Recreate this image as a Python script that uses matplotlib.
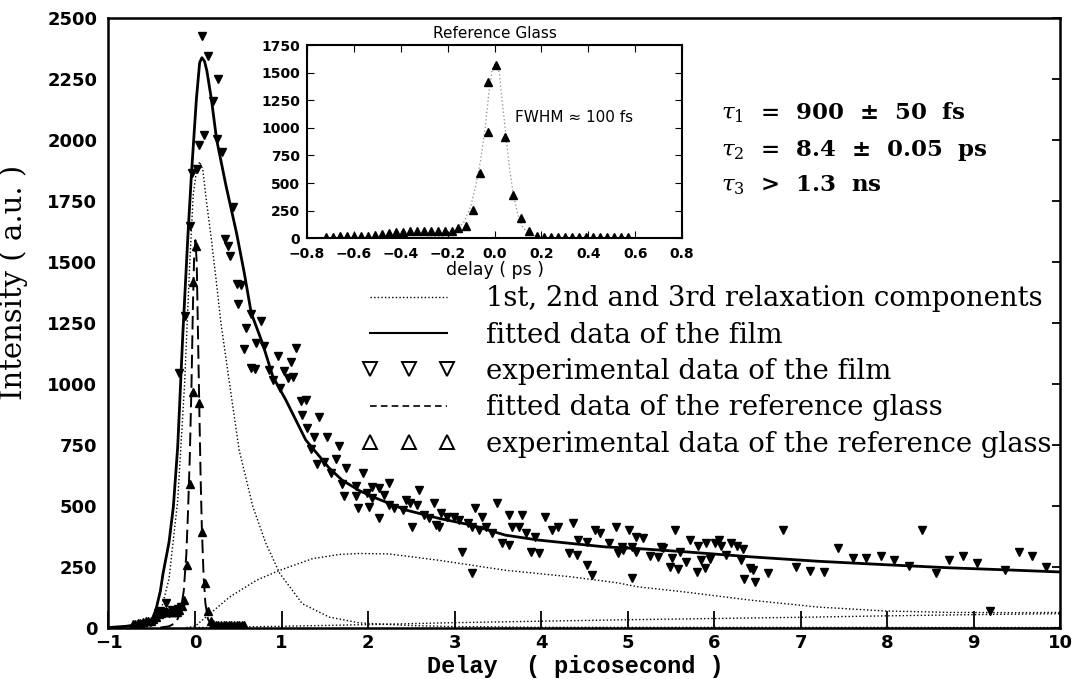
import matplotlib
matplotlib.use("Agg")
import matplotlib.pyplot as plt
from matplotlib.lines import Line2D

plt.rcParams['font.family'] = ['DejaVu Sans']
plt.rcParams['mathtext.fontset'] = 'dejavuserif'

# experimental data of the film (delay in ps, intensity in a.u.)
film_x = [-0.43, -0.40, -0.37, -0.33, -0.30, -0.27, -0.23, -0.20, -0.16,
          -0.18, -0.12, -0.06, -0.04, 0.02, 0.05, 0.11, 0.08, 0.15, 0.27, 0.21,
          0.25, 0.31, 0.44, 0.35, 0.38, 0.41, 0.48, 0.53, 0.50, 0.65, 0.765,
          0.59, 0.71, 0.80, 0.57, 1.17, 0.96, 1.11, 0.69, 0.65, 0.86, 1.03,
          1.13, 1.07, 0.90, 0.98, 1.23, 1.28, 1.24, 1.43, 1.30, 1.37, 1.53,
          1.66, 1.34, 1.63, 1.41, 1.49, 1.75, 1.57, 1.70, 1.86, 1.72, 1.86,
          1.88, 1.94,
          2.05, 2.13, 2.24, 1.99, 2.05, 2.19, 2.59, 2.01, 2.13, 2.24, 2.30,
          2.44, 2.49, 2.57, 2.76, 2.40, 2.65, 2.70, 2.51, 2.84, 2.91, 2.99,
          3.05, 2.78, 2.82, 3.24, 3.15, 3.20, 3.09, 3.20, 3.32, 3.28, 3.36,
          3.49, 3.43, 3.63, 3.66, 3.74, 3.55, 3.63, 3.78, 3.88, 3.97, 3.82,
          3.93, 4.05, 4.12, 4.20, 4.32, 4.41, 4.37, 4.53, 4.43, 4.53, 4.59,
          4.62, 4.68, 4.86, 4.78, 4.93, 5.05, 5.05, 5.01,
          4.89, 4.95, 5.10, 5.18, 5.10, 5.26, 5.35, 5.39, 5.41, 5.55, 5.49,
          5.58, 5.51, 5.60, 5.68, 5.72, 5.81, 5.80, 5.89, 5.85, 5.95, 5.91,
          6.01, 6.06, 6.08, 6.14, 6.20, 6.26, 6.33, 6.31, 6.41, 6.45, 6.34,
          6.47, 6.62, 6.79, 6.95, 7.11, 7.27, 7.43, 7.60, 7.75, 7.93, 8.08,
          8.25, 8.40, 8.56, 8.71, 8.88, 9.04, 9.19, 9.36, 9.52, 9.67, 9.83]
film_y = [60, 68, 62, 100, 58, 70, 65, 78, 85,
          1045, 1278, 1648, 1867, 1881, 1981, 2022, 2426, 2344, 2251, 2162,
          2004, 1952, 1728, 1593, 1568, 1525, 1412, 1408, 1326, 1285, 1257,
          1230, 1166, 1154, 1144, 1148, 1116, 1089, 1061, 1066, 1059, 1052,
          1029, 1024, 1018, 983, 928, 935, 874, 863, 819, 782, 782,
          747, 733, 691, 671, 678, 654, 636, 590, 582, 538, 538,
          490, 633,
          578, 571, 592, 551, 530, 544, 564, 496, 448, 503, 489,
          523, 510, 503, 510, 482, 462, 448, 414, 469, 455, 455,
          441, 421, 414, 489, 428, 414, 311, 222, 455, 400, 414,
          510, 387, 462, 414, 414, 346, 339, 462, 311, 305, 387,
          373, 455, 400, 414, 305, 298, 428, 257, 359, 352, 216,
          400, 387, 414, 346, 332, 332, 202, 400,
          305, 318, 373, 366, 311, 293, 291, 332, 325, 400, 250,
          239, 284, 311, 270, 359, 335, 229, 243, 277, 280, 346,
          348, 359, 335, 298, 348, 335, 321, 277, 243, 236, 198,
          188, 222, 400, 250, 233, 228, 328, 284, 284, 293, 277,
          254, 400, 222, 277, 293, 263, 69, 236, 311, 293, 250]

# fitted data of the film
fit_x = [-1.0, -0.8, -0.6, -0.5, -0.45, -0.40, -0.37, -0.30, -0.25, -0.20,
         -0.18, -0.14, -0.08, -0.04, 0.016, 0.054, 0.08, 0.11, 0.138, 0.19,
         0.25, 0.36, 0.48, 0.57, 0.65, 0.78, 0.90, 1.05, 1.28, 1.55, 1.70,
         1.90, 2.05, 2.44, 2.82, 3.20, 3.59, 3.97, 4.35, 4.74, 5.12, 5.66,
         6.43, 7.20, 7.97, 8.73, 9.50, 10.0]
fit_y = [0, 5, 15, 28, 75, 150, 220, 350, 495, 740,
         893, 1208, 1620, 1866, 2168, 2319, 2339, 2325, 2284, 2168,
         2003, 1811, 1620, 1455, 1291, 1167, 1030, 934, 770, 655, 605,
         562, 537, 482, 448, 420, 379, 359, 345, 331, 324, 311,
         290, 272, 258, 245, 235, 228]

# 1st, 2nd and 3rd relaxation components
comp1_x = [-0.6, -0.5, -0.4, -0.3, -0.2, -0.12, -0.06, -0.02, 0.02, 0.054,
           0.09, 0.13, 0.19, 0.24, 0.30, 0.40, 0.51, 0.67, 0.82, 0.98,
           1.24, 1.55, 1.90, 2.5, 3.0, 4.0, 10.0]
comp1_y = [0, 5, 60, 200, 520, 1000, 1500, 1780, 1880, 1912,
           1880, 1757, 1592, 1441, 1250, 1000, 729, 495, 345, 222,
           98, 43, 19, 8, 4, 1, 0]
comp2_x = [-0.1, 0.0, 0.15, 0.40, 0.71, 0.98, 1.36, 1.67, 1.90, 2.24,
           2.82, 3.59, 4.35, 4.89, 5.12, 5.66, 6.43, 7.20, 7.97, 8.73,
           9.5, 10.0]
comp2_y = [0, 5, 50, 125, 194, 235, 283, 300, 304, 302,
           276, 235, 208, 183, 167, 146, 112, 84, 68, 62,
           61, 62]
comp3_x = [0, 1, 2, 3, 4, 5, 6, 7, 8, 9, 10]
comp3_y = [0, 5, 12, 20, 26, 32, 37, 42, 48, 53, 57]

# reference glass (experimental and fitted)
glass_x = [-0.72, -0.69, -0.66, -0.63, -0.60, -0.57, -0.54, -0.51, -0.48,
           -0.45, -0.42, -0.39, -0.36, -0.33, -0.30, -0.27, -0.24, -0.21,
           -0.18, -0.155, -0.122, -0.093, -0.061, -0.026, -0.026, 0.007,
           0.046, 0.080, 0.114, 0.148, 0.18, 0.21, 0.24, 0.27, 0.30, 0.33,
           0.36, 0.39, 0.42, 0.45, 0.48, 0.51, 0.54, 0.57]
glass_y = [15, 15, 18, 20, 22, 25, 25, 28, 35,
           45, 55, 60, 65, 65, 65, 62, 62, 65,
           70, 90, 111, 256, 588, 965, 1417, 1568,
           920, 392, 181, 66, 25, 15, 12, 10, 10, 10,
           10, 10, 10, 10, 10, 10, 10, 10]
glass_fit_x = [-0.40, -0.30, -0.22, -0.17, -0.13, -0.10, -0.08, -0.06, -0.04,
               -0.025, -0.01, 0.005, 0.02, 0.035, 0.05, 0.065, 0.08, 0.10,
               0.12, 0.15, 0.20, 0.30]
glass_fit_y = [0, 5, 20, 60, 150, 300, 480, 700, 1000,
               1300, 1520, 1590, 1500, 1200, 900, 620, 400, 210,
               100, 35, 5, 0]

legend_labels = ["1st, 2nd and 3rd relaxation components",
                 "fitted data of the film",
                 "experimental data of the film",
                 "fitted data of the reference glass",
                 "experimental data of the reference glass"]
tau_lines = [r"$\tau_1$  =  900  ±  50  fs", r"$\tau_2$  =  8.4  ±  0.05  ps",
             r"$\tau_3$  >  1.3  ns"]
tau_y = [2112, 1960, 1816]

dotted = (0, (1, 1.6))
dashed = (0, (7, 3))

fig = plt.figure(figsize=(10.78, 6.79), dpi=100)
ax = fig.add_axes([0.1006, 0.0758, 0.8830, 0.897])

ax.plot(comp1_x, comp1_y, color='k', lw=1, ls=dotted)
ax.plot(comp2_x, comp2_y, color='k', lw=1, ls=dotted)
ax.plot(comp3_x, comp3_y, color='k', lw=1, ls=dotted)
ax.plot(fit_x, fit_y, color='k', lw=2)
ax.plot(glass_fit_x, glass_fit_y, color='k', lw=1.4, ls=dashed)
ax.plot(glass_x, glass_y, 'k^', ms=6, ls='none')
ax.plot(film_x, film_y, 'kv', ms=6, ls='none')

ax.set_xlim(-1, 10)
ax.set_ylim(0, 2500)
ax.set_xticks(range(-1, 11))
ax.set_yticks(range(0, 2501, 250))
ax.tick_params(axis='x', direction='in', length=12, width=1.3, pad=5, labelsize=13)
ax.tick_params(axis='y', direction='in', length=6, width=1.3, pad=8,
               labelsize=13, left=False, right=True)
for t in ax.get_xticklabels() + ax.get_yticklabels():
    t.set_fontweight('bold')
for s in ax.spines.values():
    s.set_linewidth(1.8)

ax.set_ylabel("Intensity ( a.u. )", fontfamily='DejaVu Serif', fontsize=21)
ax.yaxis.set_label_coords(-0.085, 0.566)
fig.text(575 / 1078, 1 - 667 / 679, "Delay  ( picosecond )", ha='center',
         va='center', fontfamily='Liberation Mono', fontweight='bold', fontsize=17)

for txt, yv in zip(tau_lines, tau_y):
    ax.text(6.08, yv, txt, fontfamily='DejaVu Serif', fontweight='bold',
            fontsize=16.5, va='center')

handles = [Line2D([], [], color='k', lw=1, ls=dotted),
           Line2D([], [], color='k', lw=1.5),
           Line2D([], [], color='k', ls='none', marker='v', ms=10,
                  mfc='white', mew=1.4),
           Line2D([], [], color='k', lw=1.2, ls=(0, (4, 2.5))),
           Line2D([], [], color='k', ls='none', marker='^', ms=10,
                  mfc='white', mew=1.4)]
leg = ax.legend(handles, legend_labels, loc='upper left',
                bbox_to_anchor=((362 - 108.5) / 952.5, 0.562), frameon=False,
                numpoints=3, handlelength=3.4, handletextpad=1.1,
                borderpad=0, borderaxespad=0, labelspacing=0.34,
                prop={'family': 'DejaVu Serif', 'size': 19.8})

# inset: reference glass
ins = fig.add_axes([0.2848, 0.649, 0.3479, 0.2847])
ins.plot(glass_fit_x, glass_fit_y, color='0.55', lw=0.9, ls=(0, (1, 2)))
ins.plot(glass_x, glass_y, 'k^', ms=5.5, ls='none')
ins.set_xlim(-0.8, 0.8)
ins.set_ylim(0, 1750)
inset_xticks = [-0.8, -0.6, -0.4, -0.2, 0.0, 0.2, 0.4, 0.6, 0.8]
ins.set_xticks(inset_xticks)
ins.set_xticklabels([f"{v:.1f}".replace('-', '\u2212') for v in inset_xticks])
ins.set_yticks(range(0, 1751, 250))
ins.tick_params(direction='in', length=5, top=True, right=True, labelsize=10)
ins.tick_params(axis='x', pad=6)
ins.tick_params(axis='y', pad=5)
for t in ins.get_xticklabels() + ins.get_yticklabels():
    t.set_fontweight('bold')
for s in ins.spines.values():
    s.set_linewidth(1.5)
ins.set_title("Reference Glass", fontsize=11, pad=5)
ins.set_xlabel("delay ( ps )", fontsize=12.5, labelpad=0)
ins.text(0.087, 1098, "FWHM \u2248 100 fs", fontsize=11, va='center')

fig.savefig("out.png", dpi=100)
